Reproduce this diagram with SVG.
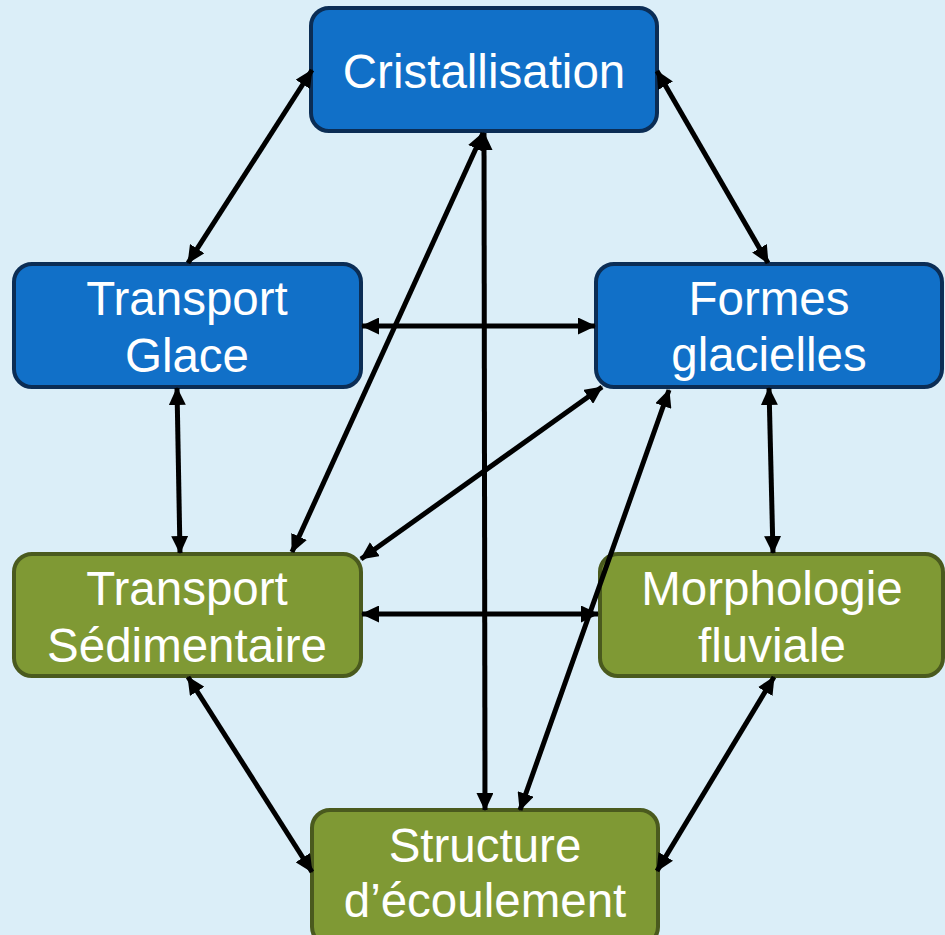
<svg xmlns="http://www.w3.org/2000/svg" width="945" height="935" viewBox="0 0 945 935">
<defs>
<marker id="ah" markerUnits="userSpaceOnUse" markerWidth="18" markerHeight="17" refX="17" refY="8.5" orient="auto-start-reverse" viewBox="0 0 18 17">
<path d="M0,0 L18,8.5 L0,17 Z" fill="#000"/>
</marker>
<style>
.blue{fill:#1170c8;stroke:#0b2d55;stroke-width:4}
.green{fill:#7f9934;stroke:#4a5a1e;stroke-width:4}
.t{font-family:"Liberation Sans",Arial,sans-serif;font-size:47.5px;fill:#fff;text-anchor:middle}
.c{stroke:#000;stroke-width:5;fill:none;marker-start:url(#ah);marker-end:url(#ah)}
</style>
</defs>
<rect width="945" height="935" fill="#dbeef8"/>
<g id="cristallisation">
<rect class="blue" x="311" y="8" width="346" height="123" rx="18"/>
<text class="t" x="484" y="88">Cristallisation</text>
</g>
<g id="transport-glace">
<rect class="blue" x="14" y="264" width="347" height="123" rx="18"/>
<text class="t" x="187" y="315">Transport</text>
<text class="t" x="187" y="372">Glace</text>
</g>
<g id="formes-glacielles">
<rect class="blue" x="596" y="264" width="346" height="123" rx="18"/>
<text class="t" x="769" y="315">Formes</text>
<text class="t" x="769" y="371">glacielles</text>
</g>
<g id="transport-sedimentaire">
<rect class="green" x="14" y="554" width="347" height="122" rx="18"/>
<text class="t" x="187" y="605">Transport</text>
<text class="t" x="187" y="662">Sédimentaire</text>
</g>
<g id="morphologie-fluviale">
<rect class="green" x="600" y="554" width="343" height="122" rx="18"/>
<text class="t" x="772" y="605">Morphologie</text>
<text class="t" x="772" y="662">fluviale</text>
</g>
<g id="structure-ecoulement">
<rect class="green" x="312" y="810" width="346" height="135" rx="18"/>
<text class="t" x="485" y="862">Structure</text>
<text class="t" x="485" y="917">d’écoulement</text>
</g>
<g id="connectors">
<line class="c" x1="312" y1="70" x2="188" y2="263"/>
<line class="c" x1="657" y1="71" x2="768" y2="263"/>
<line class="c" x1="362" y1="326" x2="595" y2="326"/>
<line class="c" x1="177" y1="388" x2="180" y2="553"/>
<line class="c" x1="483" y1="133" x2="292" y2="552"/>
<line class="c" x1="484" y1="133" x2="485" y2="810"/>
<line class="c" x1="602" y1="387" x2="361" y2="559"/>
<line class="c" x1="669" y1="390" x2="520" y2="810"/>
<line class="c" x1="769" y1="388" x2="773" y2="553"/>
<line class="c" x1="362" y1="614" x2="598" y2="614"/>
<line class="c" x1="188" y1="677" x2="312" y2="872"/>
<line class="c" x1="774" y1="677" x2="657" y2="871"/>
</g>
</svg>
